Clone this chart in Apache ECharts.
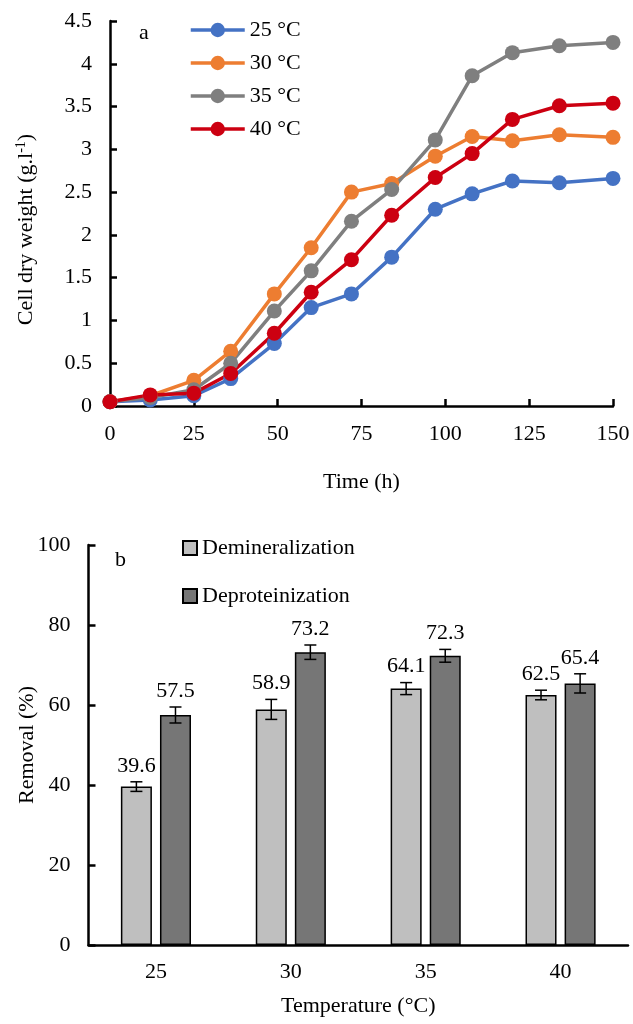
<!DOCTYPE html>
<html>
<head>
<meta charset="utf-8">
<script src="https://cdn.jsdelivr.net/npm/echarts@6.0.0/dist/echarts.min.js"></script>
<style>
  html, body { margin: 0; padding: 0; background: #fff; }
  #main { width: 633px; height: 1024px; }
</style>
</head>
<body>
<div id="main"></div>
<script>
// panel a: cell dry weight vs time
var times = [0, 12, 25, 36, 49, 60, 72, 84, 97, 108, 120, 134, 150];
var cdw25 = [0.05, 0.07, 0.12, 0.32, 0.73, 1.15, 1.31, 1.74, 2.30, 2.48, 2.63, 2.61, 2.66];
var cdw30 = [0.05, 0.12, 0.30, 0.64, 1.31, 1.85, 2.50, 2.60, 2.92, 3.15, 3.10, 3.17, 3.14];
var cdw35 = [0.05, 0.10, 0.19, 0.50, 1.11, 1.58, 2.16, 2.53, 3.11, 3.86, 4.13, 4.21, 4.25];
var cdw40 = [0.05, 0.13, 0.15, 0.38, 0.85, 1.33, 1.71, 2.23, 2.67, 2.95, 3.35, 3.51, 3.54];
var lineNames = ['25 °C', '30 °C', '35 °C', '40 °C'];

// panel b: removal vs temperature
var temps = ['25', '30', '35', '40'];
var demin = [39.6, 58.9, 64.1, 62.5];
var deminErr = [1.2, 2.5, 1.5, 1.2];
var deprot = [57.5, 73.2, 72.3, 65.4];
var deprotErr = [2.0, 1.8, 1.6, 2.4];

var FONT = "'Liberation Serif', 'Times New Roman', 'DejaVu Serif', serif";
var lineColors = ['#4472C4', '#ED7D31', '#7F7F7F', '#CC0011'];

function pairs(xs, ys) {
	return xs.map(function (x, i) { return [x, ys[i]]; });
}

var barW = 0.23, barGap = 0.26;
function errorBars(offSign) {
	return function (params, api) {
		var idx = api.value(0), v = api.value(1), e = api.value(2);
		var band = api.size([1, 0])[0];
		var cx = api.coord([idx, v])[0] + offSign * band * barW * (1 + barGap) / 2;
		var top = api.coord([idx, v + e])[1];
		var bot = api.coord([idx, v - e])[1];
		var cap = 6;
		var st = { stroke: '#000', lineWidth: 1.5 };
		return {
			type: 'group',
			children: [
				{ type: 'line', shape: { x1: cx, y1: top, x2: cx, y2: bot }, style: st },
				{ type: 'line', shape: { x1: cx - cap, y1: top, x2: cx + cap, y2: top }, style: st },
				{ type: 'line', shape: { x1: cx - cap, y1: bot, x2: cx + cap, y2: bot }, style: st },
				{ type: 'text', x: cx, y: top - 5, style: {
					text: v.toFixed(1), align: 'center', verticalAlign: 'bottom',
					fontFamily: FONT, fontSize: 22, fill: '#000'
				} }
			]
		};
	};
}

var axisCommon = {
	axisLine: { show: true, lineStyle: { color: '#000', width: 2.5 } },
	axisTick: { show: true, inside: true, length: 7, lineStyle: { color: '#000', width: 2.5 } },
	axisLabel: { color: '#000', fontFamily: FONT, fontSize: 22 },
	splitLine: { show: false },
	nameMoveOverlap: false,
	nameTextStyle: { color: '#000', fontFamily: FONT, fontSize: 22 }
};
function ax(extra) {
	return echarts.util.merge(echarts.util.clone(axisCommon), extra, true);
}

var lineSeries = [cdw25, cdw30, cdw35, cdw40].map(function (vals, i) {
	return {
		name: lineNames[i],
		type: 'line',
		xAxisIndex: 0,
		yAxisIndex: 0,
		data: pairs(times, vals),
		symbol: 'circle',
		symbolSize: 15,
		color: lineColors[i],
		lineStyle: { width: 3.5, color: lineColors[i] },
		itemStyle: { color: lineColors[i] },
		emphasis: { disabled: true }
	};
});

var myChart = echarts.init(document.getElementById('main'));

var option = {
	backgroundColor: '#fff',
	animation: false,
	grid: [
		{ left: 110, right: 20, top: 21, bottom: 618, outerBoundsMode: 'none' },
		{ left: 88.5, right: 5, top: 545, bottom: 79, outerBoundsMode: 'none' }
	],
	legend: [
		{
			data: lineNames,
			orient: 'vertical',
			left: 184, top: 14,
			itemWidth: 54, itemHeight: 18,
			itemGap: 11,
			lineStyle: { width: 3.5 },
			textStyle: { color: '#000', fontFamily: FONT, fontSize: 22, lineHeight: 21 },
			selectedMode: false
		},
		{
			data: ['Demineralization', 'Deproteinization'],
			orient: 'vertical',
			left: 177, top: 532,
			icon: 'rect',
			itemWidth: 14, itemHeight: 14,
			itemGap: 26,
			textStyle: { color: '#000', fontFamily: FONT, fontSize: 22, lineHeight: 20 },
			selectedMode: false
		}
	],
	xAxis: [
		ax({
			type: 'value', gridIndex: 0, min: 0, max: 150, interval: 25,
			name: 'Time (h)', nameLocation: 'middle', nameGap: 65,
			axisLabel: { margin: 17 }
		}),
		ax({
			type: 'category', gridIndex: 1, data: temps,
			axisTick: { show: false },
			name: 'Temperature (°C)', nameLocation: 'middle', nameGap: 50,
			axisLabel: { margin: 16 }
		})
	],
	yAxis: [
		ax({
			type: 'value', gridIndex: 0, min: 0, max: 4.5, interval: 0.5,
			name: '{a|Cell dry weight (g.l}{s|-1}{a|)}', nameLocation: 'middle', nameGap: 72,
			nameTextStyle: {
				padding: [0, 32, 0, 0],
				rich: {
					a: { fontFamily: FONT, fontSize: 22, color: '#000', lineHeight: 24 },
					s: { fontFamily: FONT, fontSize: 14, color: '#000', verticalAlign: 'top', lineHeight: 24 }
				}
			},
			axisLabel: { margin: 18 }
		}),
		ax({
			type: 'value', gridIndex: 1, min: 0, max: 100, interval: 20,
			name: 'Removal (%)', nameLocation: 'middle', nameGap: 50,
			axisLabel: { margin: 18 }
		})
	],
	graphic: [
		{ type: 'text', left: 139, top: 22, style: { text: 'a', fontFamily: FONT, fontSize: 22, fill: '#000' } },
		{ type: 'text', left: 115, top: 549, style: { text: 'b', fontFamily: FONT, fontSize: 22, fill: '#000' } }
	],
	series: lineSeries.concat([
		{
			name: 'Demineralization',
			type: 'bar',
			xAxisIndex: 1, yAxisIndex: 1,
			data: demin,
			barWidth: (barW * 100) + '%',
			barGap: (barGap * 100) + '%',
			itemStyle: { color: '#BFBFBF', borderColor: '#000', borderWidth: 1.5 },
			emphasis: { disabled: true }
		},
		{
			name: 'Deproteinization',
			type: 'bar',
			xAxisIndex: 1, yAxisIndex: 1,
			data: deprot,
			barWidth: (barW * 100) + '%',
			barGap: (barGap * 100) + '%',
			itemStyle: { color: '#767676', borderColor: '#000', borderWidth: 1.5 },
			emphasis: { disabled: true }
		},
		{
			type: 'custom',
			xAxisIndex: 1, yAxisIndex: 1,
			renderItem: errorBars(-1),
			data: demin.map(function (v, i) { return [i, v, deminErr[i]]; }),
			z: 5
		},
		{
			type: 'custom',
			xAxisIndex: 1, yAxisIndex: 1,
			renderItem: errorBars(1),
			data: deprot.map(function (v, i) { return [i, v, deprotErr[i]]; }),
			z: 5
		}
	])
};

myChart.setOption(option);
</script>
</body>
</html>
